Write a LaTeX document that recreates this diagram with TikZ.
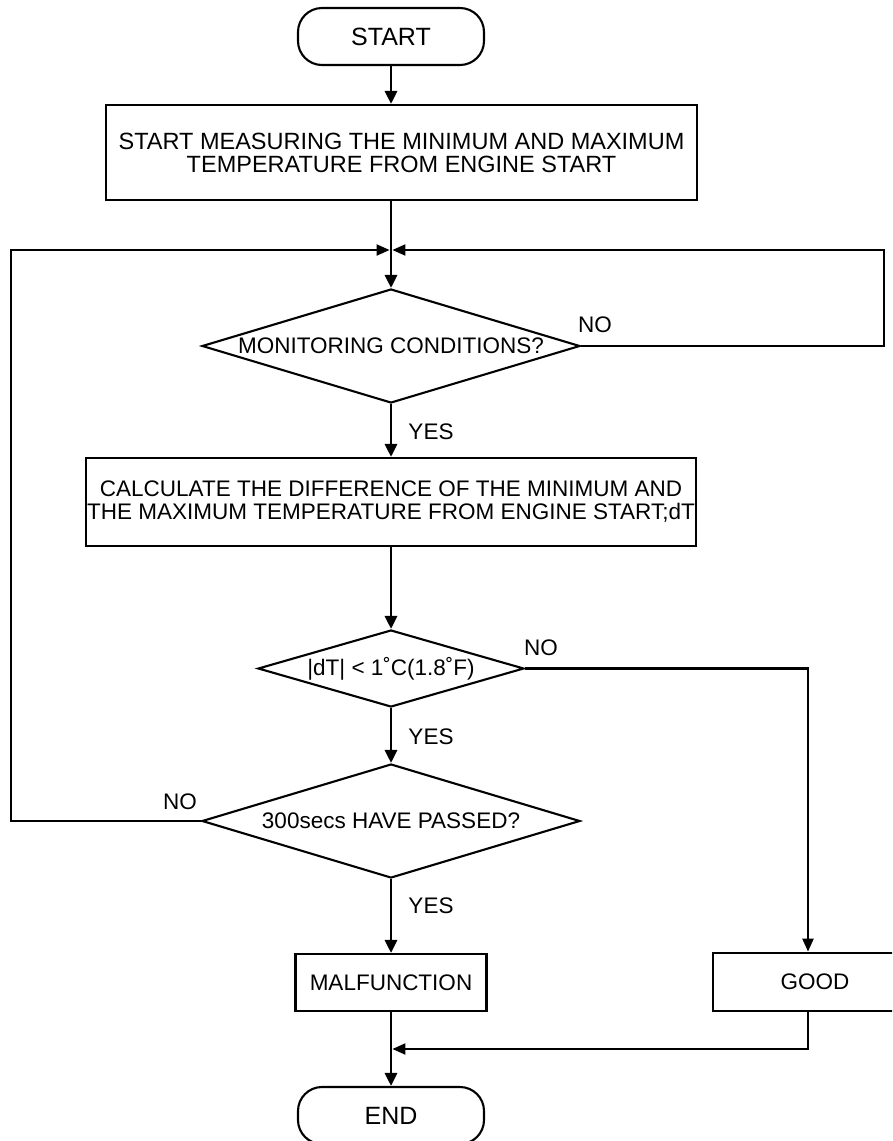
\documentclass[tikz,border=0pt]{standalone}
\usepackage{fontspec}
\setmainfont{Liberation Sans}
\usetikzlibrary{arrows.meta,shapes.geometric}

\begin{document}
\begin{tikzpicture}[
  x=1pt, y=-1pt,
  every node/.style={font=\fontsize{22.5}{23}\selectfont},
  term/.style={draw, line width=2.1pt, rounded corners=24pt,
               minimum width=186pt, minimum height=57pt, inner sep=0pt,
               font=\fontsize{25}{27}\selectfont},
  proc/.style={draw, line width=2.1pt, align=center, inner sep=0pt},
  decide/.style={draw, diamond, aspect=3.3, line width=2.1pt, inner sep=0pt},
  lbl/.style={inner sep=0pt},
  arr/.style={-{Triangle[length=13pt,width=12pt]}, line width=2.8pt},
  back/.style={line width=2pt, line join=miter},
  backarr/.style={back, -{Triangle[length=13pt,width=11pt]}, shorten >=1.4pt},
]
\useasboundingbox (0,0) rectangle (892,1141);
\clip (0,0) rectangle (892,1141);

\node[term] (start) at (391,36.5) {START};
\node[proc, minimum width=591pt, minimum height=95pt,
      font=\fontsize{23.5}{23}\selectfont] (meas) at (401.5,152.5)
  {START MEASURING THE MINIMUM AND MAXIMUM\\TEMPERATURE FROM ENGINE START};

\coordinate (join) at (391,250);
\coordinate (lft)  at (11,250);
\coordinate (rgt)  at (884,250);

\node[decide, minimum width=378pt, minimum height=114pt] (mon) at (391,346)
  {MONITORING CONDITIONS?};
\node[proc, minimum width=610pt, minimum height=88pt] (calc) at (391,502)
  {CALCULATE THE DIFFERENCE OF THE MINIMUM AND\\THE MAXIMUM TEMPERATURE FROM ENGINE START;dT};
\node[decide, minimum width=266pt, minimum height=77pt] (dt) at (391,668.5)
  {|dT| < 1˚C(1.8˚F)};
\node[decide, minimum width=378pt, minimum height=114pt] (wait) at (391,821)
  {300secs HAVE PASSED?};

\node[proc, minimum width=191pt, minimum height=57pt] (mal) at (391,982.5) {MALFUNCTION};
\node[proc, minimum width=204pt, minimum height=58pt] (good) at (815,982) {GOOD};
\node[term] (end) at (391,1115.5) {END};

\coordinate (goodin) at (808,953);
\coordinate (mrg)    at (391,1049);

% labels
\node[lbl] (no1)  at (595,325) {NO};
\node[lbl] (yes1) at (431,432) {YES};
\node[lbl] (no2)  at (541,648) {NO};
\node[lbl] (yes2) at (431,737) {YES};
\node[lbl] (no3)  at (180,802) {NO};
\node[lbl] (yes3) at (431,906) {YES};

% main flow
\draw[arr] (start) -- (start |- meas.north);
\draw[arr] (meas.south -| join) -- (mon.north);
\draw[arr] (mon) -- (calc);
\draw[arr] (calc) -- (dt);
\draw[arr] (dt) -- (wait);
\draw[arr] (wait) -- (mal);
\draw[arr] (mal) -- (end);

% loops and side branches
\draw[backarr] (mon.east) -| (rgt) -- (join);
\draw[backarr] (wait.west) -| (lft) -- (join);
\draw[backarr, line width=2.4pt] (dt.east) -| (goodin);
\draw[backarr] (good.south -| goodin) |- (mrg);
\end{tikzpicture}
\end{document}
